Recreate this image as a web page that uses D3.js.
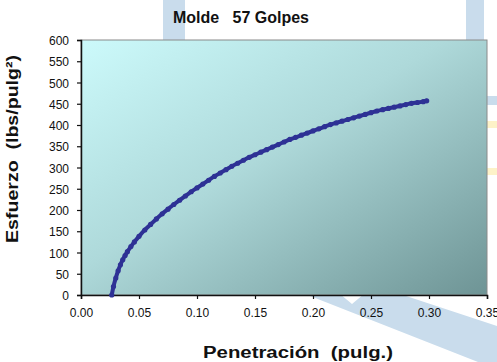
<!DOCTYPE html>
<html>
<head>
<meta charset="utf-8">
<script src="https://cdn.jsdelivr.net/npm/d3@7"></script>
<style>
  html, body { margin: 0; padding: 0; background: #ffffff; }
  svg { display: block; font-family: "Liberation Sans", Arial, sans-serif; }
</style>
</head>
<body>
<svg id="chart" width="497" height="362"></svg>
<script>
// Penetration test, mould with 57 blows
const penetracion = [0.0265, 0.028, 0.030, 0.032, 0.034, 0.036, 0.038, 0.040, 0.043, 0.046,
  0.050, 0.055, 0.060, 0.065, 0.070, 0.075, 0.080, 0.085, 0.090, 0.095,
  0.100, 0.105, 0.110, 0.115, 0.120, 0.125, 0.130, 0.135, 0.140, 0.145,
  0.150, 0.155, 0.160, 0.165, 0.170, 0.175, 0.180, 0.185, 0.190, 0.195,
  0.200, 0.205, 0.210, 0.215, 0.220, 0.225, 0.230, 0.235, 0.240, 0.245,
  0.250, 0.255, 0.260, 0.265, 0.270, 0.275, 0.280, 0.285, 0.290, 0.295, 0.298];
const esfuerzo = [0, 20, 40, 57, 71, 83, 93, 102, 114, 125,
  138, 153, 166, 179, 191, 202, 213, 223, 233, 243,
  252, 261, 270, 279, 287, 295, 303, 310, 317, 324,
  330, 336, 342, 348, 354, 360, 366, 371, 376, 381,
  386, 391, 396, 401, 405, 409, 413, 417, 421, 425,
  429, 433, 436, 439, 442, 445, 448, 451, 453, 455, 457];
const xTicks = [0, 0.05, 0.10, 0.15, 0.20, 0.25, 0.30, 0.35];
const yTicks = [0, 50, 100, 150, 200, 250, 300, 350, 400, 450, 500, 550, 600];
const titulo = "Molde   57 Golpes";
const tituloX = "Penetración  (pulg.)";
const tituloY = "Esfuerzo  (lbs/pulg²)";

const svg = d3.select("#chart");
const m = { left: 81, top: 40, right: 487, bottom: 295 };

const x = d3.scaleLinear().domain([0, 0.35]).range([m.left, m.right]);
const y = d3.scaleLinear().domain([0, 600]).range([m.bottom, m.top]);

// faint background logo shapes
const logo = svg.append("g");
logo.append("rect").attr("x", 163).attr("y", 0).attr("width", 22).attr("height", 42).attr("fill", "#c9dcec");
logo.append("rect").attr("x", 466).attr("y", 0).attr("width", 18).attr("height", 42).attr("fill", "#c9dcec");
logo.append("rect").attr("x", 484).attr("y", 96).attr("width", 13).attr("height", 9).attr("fill", "#c9dcec");
logo.append("rect").attr("x", 484).attr("y", 121).attr("width", 13).attr("height", 7).attr("fill", "#fdf2c8");
logo.append("rect").attr("x", 484).attr("y", 168).attr("width", 13).attr("height", 7).attr("fill", "#fdf2c8");
logo.append("path")
  .attr("d", "M305,294 L340,294 L352,304 L364,294 L400,294 L497,326 L497,362 L478,362 Z")
  .attr("fill", "#c9dcec");

// plot area gradient
const defs = svg.append("defs");
const grad = defs.append("linearGradient").attr("id", "bg")
  .attr("x1", 0).attr("y1", 0).attr("x2", 1).attr("y2", 1);
grad.append("stop").attr("offset", "0%").attr("stop-color", "#ccfafb");
grad.append("stop").attr("offset", "45%").attr("stop-color", "#aed9da");
grad.append("stop").attr("offset", "100%").attr("stop-color", "#6e9495");

svg.append("rect")
  .attr("x", m.left).attr("y", m.top)
  .attr("width", m.right - m.left).attr("height", m.bottom - m.top)
  .attr("fill", "url(#bg)")
  .attr("stroke", "#8a8a8a").attr("stroke-width", 1);

// axes
const fmtX = d3.format(".2f");
const gx = svg.append("g").attr("transform", `translate(0,${m.bottom})`)
  .call(d3.axisBottom(x).tickValues(xTicks).tickFormat(fmtX).tickSizeOuter(0).tickSize(4));
const gy = svg.append("g").attr("transform", `translate(${m.left},0)`)
  .call(d3.axisLeft(y).tickValues(yTicks).tickSizeOuter(0).tickSize(4));
[gx, gy].forEach(g => {
  g.select(".domain").attr("stroke", "#111").attr("stroke-width", 1.5);
  g.selectAll(".tick line").attr("stroke", "#111").attr("stroke-width", 1.2);
  g.selectAll(".tick text").attr("fill", "#111").attr("font-size", 12)
    .attr("font-family", "Liberation Sans, Arial, sans-serif");
});
gx.selectAll(".tick text").attr("dy", null).attr("y", 22);
gy.selectAll(".tick text").attr("x", -12).attr("dy", "0.38em");

// curve
const pts = penetracion.map((p, i) => [p, esfuerzo[i]]);
const line = d3.line().x(d => x(d[0])).y(d => y(d[1])).curve(d3.curveMonotoneX);
svg.append("path").datum(pts)
  .attr("d", line)
  .attr("fill", "none").attr("stroke", "#2e3195").attr("stroke-width", 4)
  .attr("stroke-linecap", "round");
svg.append("g").selectAll("circle").data(pts).join("circle")
  .attr("cx", d => x(d[0])).attr("cy", d => y(d[1])).attr("r", 2.6)
  .attr("fill", "#2e3195");

// titles
svg.append("text").attr("x", 241).attr("y", 23).attr("text-anchor", "middle")
  .attr("font-size", 16).attr("font-weight", "bold").attr("fill", "#111")
  .style("white-space", "pre")
  .text(titulo);
svg.append("text").attr("x", 298).attr("y", 358).attr("text-anchor", "middle")
  .attr("font-size", 16).attr("font-weight", "bold").attr("fill", "#111")
  .style("white-space", "pre")
  .attr("textLength", 190).attr("lengthAdjust", "spacingAndGlyphs")
  .text(tituloX);
svg.append("text").attr("transform", "translate(18,149) rotate(-90)")
  .attr("text-anchor", "middle")
  .attr("font-size", 16).attr("font-weight", "bold").attr("fill", "#111")
  .style("white-space", "pre")
  .attr("textLength", 188).attr("lengthAdjust", "spacingAndGlyphs")
  .text(tituloY);
</script>
</body>
</html>
